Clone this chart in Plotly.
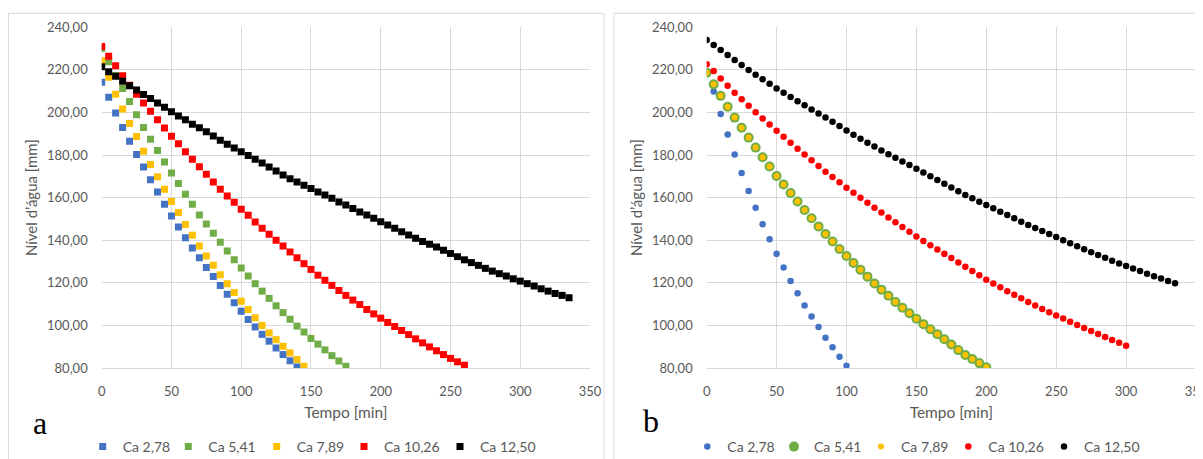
import plotly.graph_objects as go

# ---------------- data ----------------
STEP = 5  # minutes between readings

series_names = ["Ca 2,78", "Ca 5,41", "Ca 7,89", "Ca 10,26", "Ca 12,50"]
colors = ["#4472C4", "#70AD47", "#FFC000", "#FF0000", "#000000"]

# chart a
a_278 = [214.2, 207.1, 199.8, 192.9, 186.5, 180.3, 174.4, 168.4, 162.6, 156.9,
         151.4, 146.2, 141.2, 136.3, 131.8, 127.2, 123.0, 118.7, 114.6, 110.6,
         106.7, 102.8, 99.3, 95.8, 92.6, 89.4, 86.3, 83.4, 80.5]
a_541 = [230.0, 223.8, 217.4, 211.3, 205.1, 198.9, 193.0, 187.4, 182.1, 176.8,
         171.6, 166.6, 161.6, 156.9, 151.9, 147.6, 143.3, 139.0, 134.9, 130.8,
         127.0, 123.2, 119.6, 116.1, 112.7, 109.2, 106.0, 102.9, 99.7, 96.9,
         93.9, 91.2, 88.5, 85.8, 83.3, 80.8]
a_789 = [224.3, 216.5, 208.6, 201.6, 194.8, 188.7, 181.8, 175.6, 169.8, 164.0,
         158.2, 153.0, 147.4, 142.3, 137.3, 132.6, 128.3, 123.8, 119.6, 115.4,
         111.4, 107.5, 103.6, 100.0, 96.5, 93.3, 90.2, 87.1, 84.0, 80.8]
a_1026 = [231.0, 226.4, 221.9, 217.2, 212.8, 208.6, 204.5, 200.6, 196.6, 192.7,
          188.8, 185.3, 181.6, 178.0, 174.5, 171.0, 167.4, 164.0, 160.8, 157.8,
          154.6, 151.7, 148.6, 145.6, 142.8, 140.0, 137.3, 134.5, 131.8, 129.0,
          126.3, 123.6, 121.2, 118.8, 116.4, 114.1, 111.9, 109.8, 107.5, 105.4,
          103.4, 101.4, 99.5, 97.6, 95.7, 93.7, 91.8, 89.9, 88.1, 86.3,
          84.5, 82.9, 81.3]
a_1250 = [221.5, 219.1, 217.0, 214.7, 212.5, 210.5, 208.5, 206.6, 204.5, 202.4,
          200.3, 198.4, 196.6, 194.5, 192.8, 190.9, 189.0, 187.0, 185.1, 183.3,
          181.5, 179.8, 178.0, 176.3, 174.4, 172.5, 170.6, 168.9, 167.3, 165.8,
          164.3, 162.7, 161.2, 159.7, 158.0, 156.5, 154.9, 153.3, 151.8, 150.3,
          148.7, 147.1, 145.6, 144.0, 142.5, 140.9, 139.4, 138.1, 136.8, 135.3,
          133.8, 132.3, 130.8, 129.5, 128.2, 126.8, 125.5, 124.3, 123.2, 121.9,
          120.8, 119.6, 118.5, 117.2, 116.1, 115.0, 114.1, 113.0]

# chart b
b_278 = [219.5, 209.8, 199.3, 189.7, 180.3, 171.6, 163.1, 155.3, 147.5, 140.5,
         133.6, 127.2, 120.9, 115.1, 109.4, 104.2, 99.2, 94.2, 89.7, 85.3, 81.1]
b_541 = [218.7, 213.2, 207.8, 202.7, 197.6, 192.8, 188.2, 183.5, 179.0, 174.6,
         170.2, 166.2, 162.2, 158.2, 154.2, 150.3, 146.5, 142.9, 139.4, 135.9,
         132.6, 129.3, 126.1, 122.9, 119.7, 116.8, 113.9, 111.0, 108.3, 105.7,
         103.1, 100.6, 98.2, 95.9, 93.5, 91.0, 88.4, 86.1, 84.2, 82.3, 80.3]
b_789 = [218.7, 213.2, 207.8, 202.7, 197.6, 192.8, 188.2, 183.5, 179.0, 174.6,
         170.2, 166.2, 162.2, 158.2, 154.2, 150.3, 146.5, 142.9, 139.4, 135.9,
         132.6, 129.3, 126.1, 122.9, 119.7, 116.8, 113.9, 111.0, 108.3, 105.7,
         103.1, 100.6, 98.2, 95.9, 93.5, 91.0, 88.4, 86.1, 84.2, 82.3, 80.3]
b_1026 = [222.7, 219.5, 216.0, 212.5, 209.3, 206.2, 203.1, 200.1, 197.2, 194.3,
          191.4, 188.6, 185.8, 183.0, 180.3, 177.6, 174.9, 172.2, 169.7, 167.2,
          164.6, 162.3, 159.9, 157.6, 155.3, 153.0, 150.7, 148.4, 146.2, 144.0,
          141.8, 139.6, 137.6, 135.6, 133.6, 131.6, 129.6, 127.6, 125.6, 123.5,
          121.5, 119.7, 117.9, 116.1, 114.4, 112.7, 111.0, 109.3, 107.7, 106.2,
          104.7, 103.2, 101.7, 100.2, 98.8, 97.4, 96.0, 94.6, 93.2, 91.8, 90.4]
b_1250 = [234.0, 231.7, 229.3, 227.0, 224.6, 222.3, 220.0, 217.7, 215.6, 213.5,
          211.3, 209.3, 207.3, 205.3, 203.4, 201.4, 199.5, 197.6, 195.6, 193.6,
          191.5, 189.5, 187.7, 185.8, 184.0, 182.2, 180.4, 178.7, 177.0, 175.3,
          173.6, 171.8, 170.0, 168.3, 166.5, 164.8, 163.0, 161.3, 159.7, 158.1,
          156.5, 155.0, 153.4, 151.8, 150.3, 148.7, 147.2, 145.8, 144.3, 142.9,
          141.5, 140.0, 138.6, 137.2, 135.8, 134.4, 133.1, 131.8, 130.4, 129.1,
          127.9, 126.7, 125.5, 124.3, 123.1, 122.0, 120.9, 119.8]

x_title = "Tempo [min]"
y_title = "Nível d’água [mm]"

# ---------------- figure ----------------
# the page body has an 8px margin, so the figure is laid out in page pixels minus 8;
# it is made a little taller than the window so the legend is not pushed upward
OFF = 8
W, H = 1195, 475
FONT = "Lato"
GREY = "#595959"
GRID = "#D9D9D9"

def px_x(p):
    return (p - OFF) / W

def px_y(p):
    return (H - (p - OFF)) / H

def times(vals):
    return [i * STEP for i in range(len(vals))]

fig = go.Figure()

legend_w_a = [40.6, 43.4, 42.3, 51, 60]
a_data = [a_278, a_541, a_789, a_1026, a_1250]
for name, col, vals, lw in zip(series_names, colors, a_data, legend_w_a):
    fig.add_trace(go.Scatter(
        x=times(vals), y=vals, mode="markers", name=name,
        marker=dict(symbol="square", size=7, color=col),
        legendwidth=lw, xaxis="x", yaxis="y", legend="legend"))

legend_w_b = [41.7, 42, 42.3, 50.7, 60]
b_data = [b_278, b_541, b_789, b_1026, b_1250]
b_sizes = [6.5, 10, 6, 6.5, 6.5]
for name, col, vals, sz, lw in zip(series_names, colors, b_data, b_sizes, legend_w_b):
    fig.add_trace(go.Scatter(
        x=times(vals), y=vals, mode="markers", name=name,
        marker=dict(symbol="circle", size=sz, color=col),
        legendwidth=lw, xaxis="x2", yaxis="y2", legend="legend2"))

ydom = [px_y(368), px_y(27.3)]
xaxis_common = dict(range=[0, 350], dtick=50, tick0=0, showgrid=True, gridcolor=GRID,
                    gridwidth=1, zeroline=False, showline=True, linecolor=GRID,
                    linewidth=1, mirror=False, ticks="", ticklabelstandoff=11,
                    ticklabeloverflow="allow", automargin=False,
                    tickfont=dict(family=FONT, size=13, color=GREY),
                    title=dict(text=x_title, font=dict(family=FONT, size=15.5, color=GREY),
                               standoff=9))
yaxis_common = dict(range=[80, 240], dtick=20, tick0=80, showgrid=True, gridcolor=GRID,
                    gridwidth=1, zeroline=False, showline=False, ticks="",
                    tickformat=".2f", ticklabelstandoff=13, automargin=False,
                    ticklabeloverflow="allow",
                    tickfont=dict(family=FONT, size=13, color=GREY),
                    title=dict(text=y_title, font=dict(family=FONT, size=15, color=GREY),
                               standoff=5))

legend_common = dict(orientation="h", yanchor="middle", xanchor="left",
                     font=dict(family=FONT, size=14, color=GREY),
                     bgcolor="rgba(0,0,0,0)", itemclick=False)

fig.update_layout(
    width=W, height=H,
    margin=dict(l=0, r=0, t=0, b=0),
    paper_bgcolor="white", plot_bgcolor="white",
    separators=",.",
    xaxis=dict(domain=[px_x(101.7), px_x(590)], anchor="y", **xaxis_common),
    yaxis=dict(domain=ydom, anchor="x", **yaxis_common),
    xaxis2=dict(domain=[px_x(706.7), px_x(1196)], anchor="y2", **xaxis_common),
    yaxis2=dict(domain=ydom, anchor="x2", **yaxis_common),
    legend=dict(x=px_x(102.7 - 20), y=px_y(447), **legend_common),
    legend2=dict(x=px_x(707.3 - 20), y=px_y(447), **legend_common),
    shapes=[
        dict(type="rect", xref="paper", yref="paper", x0=px_x(8.5), x1=px_x(604),
             y0=-0.05, y1=px_y(13.3), line=dict(color=GRID, width=1), layer="below"),
        dict(type="rect", xref="paper", yref="paper", x0=px_x(614), x1=1.02,
             y0=-0.05, y1=px_y(13.3), line=dict(color=GRID, width=1), layer="below"),
    ],
    annotations=[
        dict(text="a", x=px_x(39.5), y=px_y(423), xref="paper", yref="paper",
             showarrow=False, xanchor="center", yanchor="middle",
             font=dict(family="Liberation Serif", size=32, color="black")),
        dict(text="b", x=px_x(651.5), y=px_y(421), xref="paper", yref="paper",
             showarrow=False, xanchor="center", yanchor="middle",
             font=dict(family="Liberation Serif", size=32, color="black")),
    ],
)

fig.write_html("out.html")
